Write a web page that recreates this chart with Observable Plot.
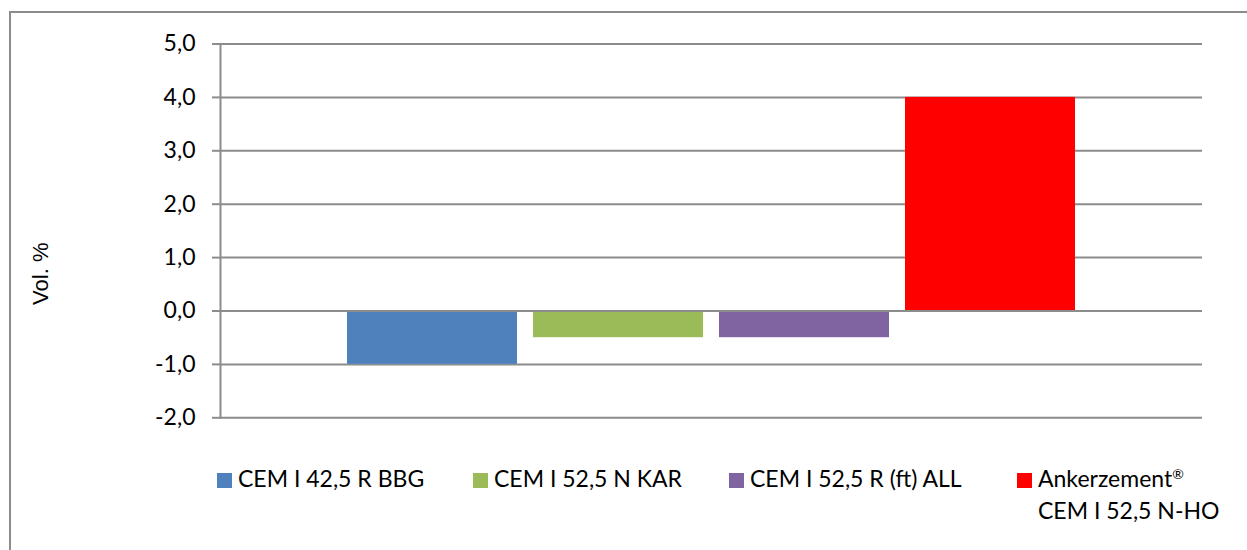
<!DOCTYPE html>
<html>
<head>
<meta charset="utf-8">
<script src="https://cdn.jsdelivr.net/npm/d3@7"></script>
<script src="https://cdn.jsdelivr.net/npm/@observablehq/plot@0.6"></script>
<style>
  body { margin: 0; background: #fff; }
  #wrap { position: relative; width: 1247px; height: 550px; overflow: hidden; font-family: Lato, "Open Sans", sans-serif; }
  #border { position: absolute; left: 9px; top: 11px; width: 1400px; height: 700px; border: 2px solid #8c8c8c; box-sizing: border-box; }
  #chart { position: absolute; left: 0; top: 0; }
  .lg { position: absolute; font-size: 23px; color: #000; line-height: 32px; white-space: nowrap; }
  .lg span.sw { position: absolute; left: 0; top: 11px; width: 15px; height: 15px; }
  .lg span.tx { display: block; margin-left: 21px; }
  .lg sup { font-size: 14px; vertical-align: 8px; line-height: 0; }
</style>
</head>
<body>
<div id="wrap">
  <div id="border"></div>
  <div id="chart"></div>
</div>
<script>
const series = ["CEM I 42,5 R BBG", "CEM I 52,5 N KAR", "CEM I 52,5 R (ft) ALL", "Ankerzement® CEM I 52,5 N-HO"];
const legendLabels = [["CEM I 42,5 R BBG"], ["CEM I 52,5 N KAR"], ["CEM I 52,5 R (ft) ALL"], ["Ankerzement®", "CEM I 52,5 N-HO"]];
const values = [-1.0, -0.5, -0.5, 4.0];
const colors = ["#4f81bd", "#9bbb59", "#8064a2", "#ff0000"];
const yTicks = [-2, -1, 0, 1, 2, 3, 4, 5];
const yLabel = "Vol. %";

const data = series.map((s, i) => ({series: s, value: values[i]}));
const fmt = d => d.toFixed(1).replace(".", ",");

const plot = Plot.plot({
  width: 1247,
  height: 455,
  marginLeft: 220,
  marginRight: 45,
  marginTop: 43.5,
  marginBottom: 37.7,
  style: {fontFamily: "Lato, 'Open Sans', sans-serif", fontSize: "23px", color: "#000", background: "transparent"},
  x: {type: "band", domain: series, paddingInner: 0.085, paddingOuter: 0.68, axis: null},
  y: {domain: [-2, 5], ticks: yTicks},
  color: {domain: series, range: colors},
  marks: [
    Plot.ruleY(yTicks, {stroke: "#8c8c8c", strokeWidth: 2}),
    Plot.barY(data, {x: "series", y: "value", fill: "series"}),
    Plot.ruleY(yTicks.filter(d => d === 0), {stroke: "#8c8c8c", strokeWidth: 2}),
    Plot.axisY({ticks: yTicks, tickFormat: fmt, tickSize: 8, tickPadding: 17, stroke: "#8c8c8c", strokeWidth: 2, strokeOpacity: 1, fill: "#000", label: null}),
    Plot.text([yLabel], {frameAnchor: "left", dx: -180, dy: 74, rotate: -90, fontSize: 22, fontFamily: "'Liberation Sans', Arial, sans-serif", fill: "#000"}),
    Plot.frame({anchor: "left", stroke: "#8c8c8c", strokeWidth: 2})
  ]
});
document.getElementById("chart").appendChild(plot);

const legendX = [217, 473, 729, 1017];
const wrap = document.getElementById("wrap");
legendLabels.forEach((lines, i) => {
  const d = document.createElement("div");
  d.className = "lg";
  d.style.left = legendX[i] + "px";
  d.style.top = "462px";
  const sw = document.createElement("span");
  sw.className = "sw";
  sw.style.background = colors[i];
  d.appendChild(sw);
  lines.forEach(t => {
    const s = document.createElement("span");
    s.className = "tx";
    if (t.endsWith("®")) {
      s.textContent = t.slice(0, -1);
      const sup = document.createElement("sup");
      sup.textContent = "®";
      s.appendChild(sup);
    } else {
      s.textContent = t;
    }
    d.appendChild(s);
  });
  wrap.appendChild(d);
});
</script>
</body>
</html>
